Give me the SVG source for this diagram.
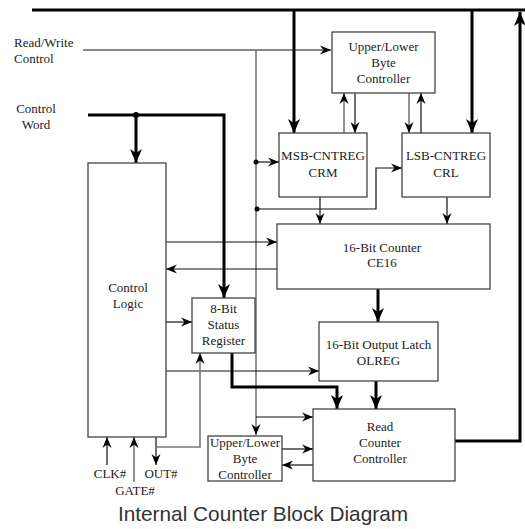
<svg xmlns="http://www.w3.org/2000/svg" width="525" height="529" viewBox="0 0 525 529">
<style>
.box{fill:#fff;stroke:#444;stroke-width:1.3}
.t{font-size:13px;fill:#222;text-anchor:middle}
.thin{fill:none;stroke:#111;stroke-width:1.2}
.gray{fill:none;stroke:#777;stroke-width:1.6}
.thick{fill:none;stroke:#000;stroke-width:3}
.cap{font-family:'Liberation Sans',Arial,sans-serif;font-size:20.8px;fill:#333;text-anchor:middle}
</style>
<defs>
<marker id="a" markerUnits="userSpaceOnUse" markerWidth="12" markerHeight="10" refX="11" refY="5" orient="auto" viewBox="0 0 12 10">
<path d="M0,0.5 L11,5 L0,9.5 L3.5,5 z" fill="#000"/>
</marker>
<marker id="A" markerUnits="userSpaceOnUse" markerWidth="15" markerHeight="12" refX="14" refY="6" orient="auto" viewBox="0 0 15 12">
<path d="M0,0 L14,6 L0,12 L4,6 z" fill="#000"/>
</marker>
</defs>
<g id="connectors">
<path class="thick" d="M32,10 H525"/>
<path class="thick" d="M294,10 V133" marker-end="url(#A)"/>
<path class="thick" d="M472,10 V133" marker-end="url(#A)"/>
<path class="thick" d="M455,441 H520 V12" marker-end="url(#A)"/>
<path class="thin" d="M83,50 H331" marker-end="url(#a)"/>
<path class="gray" d="M256,50 V435" marker-end="url(#a)"/>
<circle cx="256" cy="162" r="2.5" fill="#000"/>
<path class="thin" d="M256,162 H279" marker-end="url(#a)"/>
<circle cx="257" cy="209" r="2.5" fill="#000"/>
<path class="thin" d="M257,209 H376 V168 H402" marker-end="url(#a)"/>
<path class="thin" d="M256,417 H313" marker-end="url(#a)"/>
<path class="gray" d="M344,133 V93" marker-end="url(#a)"/>
<path class="thin" d="M355,93 V133" marker-end="url(#a)"/>
<path class="gray" d="M409,93 V133" marker-end="url(#a)"/>
<path class="thin" d="M421,133 V93" marker-end="url(#a)"/>
<path class="thick" d="M88,115 H224 V298" marker-end="url(#A)"/>
<circle cx="136" cy="115" r="3" fill="#000"/>
<path class="thick" d="M136,115 V163" marker-end="url(#A)"/>
<path class="thin" d="M320,197 V224" marker-end="url(#a)"/>
<path class="thin" d="M447,197 V224" marker-end="url(#a)"/>
<path class="thin" d="M166,242 H277" marker-end="url(#a)"/>
<path class="thin" d="M277,269 H166" marker-end="url(#a)"/>
<path class="thick" d="M378,289 V322" marker-end="url(#A)"/>
<path class="thin" d="M166,322 H192" marker-end="url(#a)"/>
<path class="thin" d="M166,371 H319" marker-end="url(#a)" stroke="#444"/>
<path class="thick" d="M232,353 V387 H337 V409" marker-end="url(#A)"/>
<path class="thick" d="M376,381 V409" marker-end="url(#A)"/>
<path class="thin" d="M282,449 H313" marker-end="url(#a)"/>
<path class="thin" d="M313,465 H282" marker-end="url(#a)"/>
<path class="thin" d="M107,465 V437" marker-end="url(#a)"/>
<path class="gray" d="M134,482 V437" marker-end="url(#a)"/>
<path class="thin" d="M156,437 V465" marker-end="url(#a)"/>
<path class="gray" d="M156,447 H200 V353" marker-end="url(#a)"/>
</g>
<g font-family="Liberation Serif, Times New Roman, DejaVu Serif, serif">
<g id="labels">
<text class="t" x="14" y="47" style="text-anchor:start">Read/Write</text>
<text class="t" x="14" y="63" style="text-anchor:start">Control</text>
<text class="t" x="36" y="113">Control</text>
<text class="t" x="36" y="129">Word</text>
<text class="t" x="110" y="478">CLK#</text>
<text class="t" x="135" y="495">GATE#</text>
<text class="t" x="161" y="478">OUT#</text>
</g>
<g id="ulb-top"><rect class="box" x="332" y="32" width="103" height="61"/>
<text class="t" x="383.5" y="51">Upper/Lower</text><text class="t" x="383.5" y="67">Byte</text><text class="t" x="383.5" y="83">Controller</text></g>
<g id="msb"><rect class="box" x="279" y="133" width="88" height="64"/>
<text class="t" x="323" y="160">MSB-CNTREG</text><text class="t" x="323" y="177">CRM</text></g>
<g id="lsb"><rect class="box" x="402" y="133" width="88" height="64"/>
<text class="t" x="446" y="160">LSB-CNTREG</text><text class="t" x="446" y="177">CRL</text></g>
<g id="control-logic"><rect class="box" x="88" y="163" width="78" height="274"/>
<text class="t" x="128" y="292">Control</text><text class="t" x="128" y="308">Logic</text></g>
<g id="counter"><rect class="box" x="277" y="224" width="213" height="65"/>
<text class="t" x="382" y="252">16-Bit Counter</text><text class="t" x="382" y="267">CE16</text></g>
<g id="status"><rect class="box" x="192" y="298" width="63" height="55"/>
<text class="t" x="223.5" y="313">8-Bit</text><text class="t" x="223.5" y="329">Status</text><text class="t" x="223.5" y="345">Register</text></g>
<g id="latch"><rect class="box" x="319" y="322" width="119" height="59"/>
<text class="t" x="378.5" y="349">16-Bit Output Latch</text><text class="t" x="378.5" y="365">OLREG</text></g>
<g id="rcc"><rect class="box" x="313" y="409" width="142" height="72"/>
<text class="t" x="380" y="431">Read</text><text class="t" x="380" y="447">Counter</text><text class="t" x="380" y="463">Controller</text></g>
<g id="ulb-bottom"><rect class="box" x="208" y="436" width="74" height="45"/>
<text class="t" x="245" y="447">Upper/Lower</text><text class="t" x="245" y="463">Byte</text><text class="t" x="245" y="479">Controller</text></g>
</g>
<text class="cap" x="263" y="521">Internal Counter Block Diagram</text>
</svg>
